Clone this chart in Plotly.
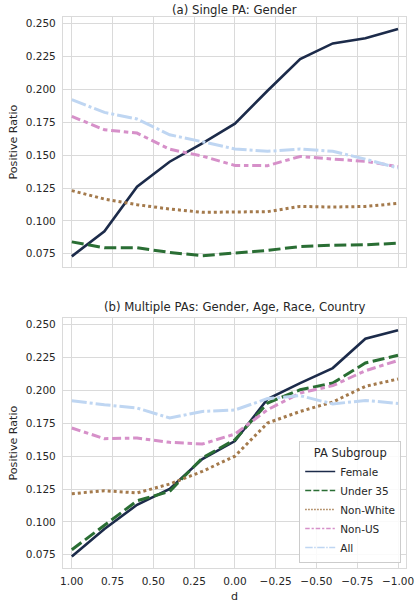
import plotly.graph_objects as go

d = [1.0, 0.8, 0.6, 0.4, 0.2, 0.0, -0.2, -0.4, -0.6, -0.8, -1.0]

# (a) Single PA: Gender
female_a = [0.073, 0.092, 0.126, 0.145, 0.159, 0.174, 0.199, 0.223, 0.235, 0.239, 0.246]
under35_a = [0.084, 0.0795, 0.0795, 0.076, 0.0735, 0.0755, 0.0775, 0.0805, 0.0815, 0.0818, 0.083]
nonwhite_a = [0.123, 0.1166, 0.1123, 0.109, 0.1065, 0.1068, 0.107, 0.111, 0.1105, 0.111, 0.1133]
nonus_a = [0.1795, 0.1693, 0.1668, 0.1545, 0.1493, 0.1422, 0.142, 0.149, 0.147, 0.1453, 0.1413]
all_a = [0.1922, 0.1825, 0.1775, 0.1655, 0.1602, 0.1547, 0.1529, 0.1547, 0.1529, 0.147, 0.1402]

# (b) Multiple PAs
female_b = [0.0737, 0.0946, 0.113, 0.125, 0.1478, 0.1615, 0.1935, 0.2056, 0.217, 0.2393, 0.2457]
under35_b = [0.0788, 0.0971, 0.116, 0.1232, 0.1486, 0.1625, 0.1904, 0.2005, 0.2056, 0.2209, 0.2267]
nonwhite_b = [0.1214, 0.1237, 0.122, 0.1288, 0.1384, 0.150, 0.1752, 0.184, 0.1912, 0.2031, 0.2087]
nonus_b = [0.1714, 0.1633, 0.1638, 0.1605, 0.1592, 0.1668, 0.1853, 0.198, 0.2036, 0.215, 0.2228]
all_b = [0.1922, 0.1891, 0.1866, 0.179, 0.184, 0.1851, 0.1938, 0.196, 0.1897, 0.1924, 0.1901]

groups = ["Female", "Under 35", "Non-White", "Non-US", "All"]
colors = ["#1c2b4a", "#2a6e34", "#a47a4c", "#d690c9", "#bfd6f2"]
widths = [2.6, 3.0, 3.0, 3.0, 3.0]
dashes = ["solid", "12px,4.5px", "3px,3px", "9px,3.75px,4.5px,3.75px", "15px,3px,3px,3px"]
leg_dashes = ["solid", "6px,2.2px", "1.5px,1.5px", "4.5px,1.9px,2.2px,1.9px", "7.5px,1.5px,1.5px,1.5px"]

series_a = [female_a, under35_a, nonwhite_a, nonus_a, all_a]
series_b = [female_b, under35_b, nonwhite_b, nonus_b, all_b]

fig = go.Figure()
for i, g in enumerate(groups):
    fig.add_trace(go.Scatter(x=d, y=series_a[i], mode="lines", name=g, showlegend=False,
                             line=dict(color=colors[i], width=widths[i], dash=dashes[i]),
                             xaxis="x", yaxis="y"))
    fig.add_trace(go.Scatter(x=d, y=series_b[i], mode="lines", name=g, showlegend=False,
                             line=dict(color=colors[i], width=widths[i], dash=dashes[i]),
                             xaxis="x2", yaxis="y2"))
for i, g in enumerate(groups):
    fig.add_trace(go.Scatter(x=[None], y=[None], mode="lines", name=g, showlegend=True,
                             line=dict(color=colors[i], width=1.4, dash=leg_dashes[i]),
                             xaxis="x2", yaxis="y2"))

TXT = "#262626"
GRID = "#dadada"
FONT = "DejaVu Sans"

xcommon = dict(range=[1.054, -1.049], tickvals=[1.0, 0.75, 0.5, 0.25, 0.0, -0.25, -0.5, -0.75, -1.0],
               tickformat=".2f", showgrid=True, gridcolor=GRID, gridwidth=1.1, zeroline=False,
               showline=True, linecolor=GRID, linewidth=1.2, mirror=True, ticks="",
               tickfont=dict(family=FONT, size=10.5, color=TXT))
ycommon = dict(range=[0.0649, 0.2551], tickvals=[0.075, 0.1, 0.125, 0.15, 0.175, 0.2, 0.225, 0.25],
               tickformat=".3f", showgrid=True, gridcolor=GRID, gridwidth=1.1, zeroline=False,
               showline=True, linecolor=GRID, linewidth=1.2, mirror=True, ticks="",
               tickfont=dict(family=FONT, size=10.5, color=TXT), ticklabelstandoff=4)

top_dom = [301 / 551, 1.0]
bot_dom = [0.0, 250 / 551]

fig.update_layout(
    width=420, height=606,
    margin=dict(l=63.3, r=6.3, t=17.3, b=37.7),
    paper_bgcolor="white", plot_bgcolor="white",
    font=dict(family=FONT, size=10.5, color=TXT),
    xaxis=dict(**xcommon, anchor="y", showticklabels=False),
    yaxis=dict(**ycommon, domain=top_dom, anchor="x"),
    xaxis2=dict(**xcommon, anchor="y2", matches="x", ticklabelstandoff=3),
    yaxis2=dict(**ycommon, domain=bot_dom, anchor="x2"),
    legend=dict(x=0.986, xanchor="right", y=0.009, yanchor="bottom",
                bgcolor="rgba(255,255,255,0.85)", bordercolor="#cccccc", borderwidth=1,
                font=dict(family=FONT, size=10.5, color=TXT),
                title=dict(text="PA Subgroup", side="top center", font=dict(family=FONT, size=11.5, color=TXT)),
                tracegroupgap=0),
    annotations=[
        dict(text="(a) Single PA: Gender", x=0.5, y=(568.3 - 10) / 551, xref="paper", yref="paper",
             showarrow=False, xanchor="center", yanchor="middle", font=dict(family=FONT, size=11.7, color=TXT)),
        dict(text="(b) Multiple PAs: Gender, Age, Race, Country", x=0.5, y=(568.3 - 307.3) / 551,
             xref="paper", yref="paper", showarrow=False, xanchor="center", yanchor="middle",
             font=dict(family=FONT, size=11.7, color=TXT)),
        dict(text="Positive Ratio", x=-(63.3 - 13) / 350.4, y=(568.3 - 142) / 551, xref="paper", yref="paper",
             showarrow=False, textangle=-90, xanchor="center", yanchor="middle",
             font=dict(family=FONT, size=11.1, color=TXT)),
        dict(text="Positive Ratio", x=-(63.3 - 13) / 350.4, y=(568.3 - 443) / 551, xref="paper", yref="paper",
             showarrow=False, textangle=-90, xanchor="center", yanchor="middle",
             font=dict(family=FONT, size=11.1, color=TXT)),
        dict(text="d", x=0.5, y=(568.3 - 597) / 551, xref="paper", yref="paper",
             showarrow=False, xanchor="center", yanchor="middle",
             font=dict(family=FONT, size=11.1, color=TXT)),
    ],
)

fig.write_html("out.html", config={"displayModeBar": False},
               post_script="document.body.style.margin='0';document.body.style.overflow='hidden';")
